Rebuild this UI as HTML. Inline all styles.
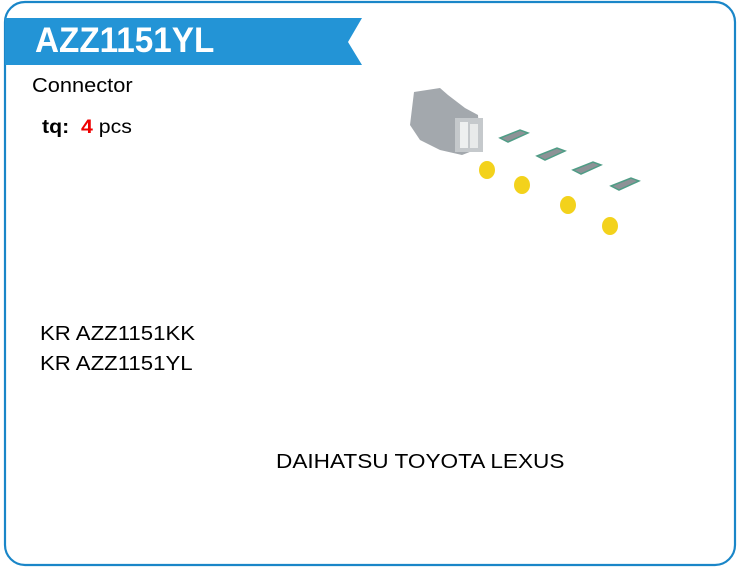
<!DOCTYPE html>
<html><head><style>
body{margin:0;width:740px;height:576px;background:#fff;position:relative;font-family:"Liberation Sans",sans-serif;overflow:hidden}
.t{position:absolute;white-space:nowrap;color:#000;transform-origin:0 0;transform:scaleX(1.11)}
</style></head><body>
<svg width="740" height="576" style="position:absolute;left:0;top:0">
<rect x="5" y="2" width="730" height="563" rx="20" ry="20" fill="none" stroke="#1a86c8" stroke-width="2.2"/>
<polygon points="5,18 362,18 348,42 362,65 5,65" fill="#2394d6"/>
<g>
<path d="M414,92 L440,88 L448,95 L465,108 L478,115 L480,148 L462,155 L440,150 L420,140 L410,125 Z" fill="#a3a8ad"/>
<rect x="455" y="118" width="28" height="34" fill="#c5c9cc"/>
<rect x="460" y="122" width="8" height="26" fill="#eef0f0"/>
<rect x="470" y="124" width="8" height="24" fill="#e8eaea"/>
</g>
<g fill="#8d9296" stroke="#4f9d86" stroke-width="1.5">
<polygon points="500,138 520,130 528,133 508,142"/>
<polygon points="537,156 557,148 565,151 545,160"/>
<polygon points="573,170 593,162 601,165 581,174"/>
<polygon points="611,186 631,178 639,181 619,190"/>
</g>
<g fill="#f3d21c">
<ellipse cx="487" cy="170" rx="8" ry="9"/>
<ellipse cx="522" cy="185" rx="8" ry="9"/>
<ellipse cx="568" cy="205" rx="8" ry="9"/>
<ellipse cx="610" cy="226" rx="8" ry="9"/>
</g>
</svg>
<div class="t" style="left:35px;top:18px;font-size:35px;font-weight:bold;color:#fff;line-height:46px;transform:scaleX(0.95)">AZZ1151YL</div>
<div class="t" style="left:32px;top:75px;font-size:20px;transform:scaleX(1.09)">Connector</div>
<div class="t" style="left:42px;top:117px;font-size:19px;transform:scaleX(1.12)"><b>tq:</b>&nbsp; <b style="color:#e00">4</b> pcs</div>
<div class="t" style="left:40px;top:323px;font-size:20px">KR AZZ1151KK</div>
<div class="t" style="left:40px;top:353px;font-size:20px">KR AZZ1151YL</div>
<div class="t" style="left:276px;top:451px;font-size:20px;transform:scaleX(1.13)">DAIHATSU TOYOTA LEXUS</div>
</body></html>
